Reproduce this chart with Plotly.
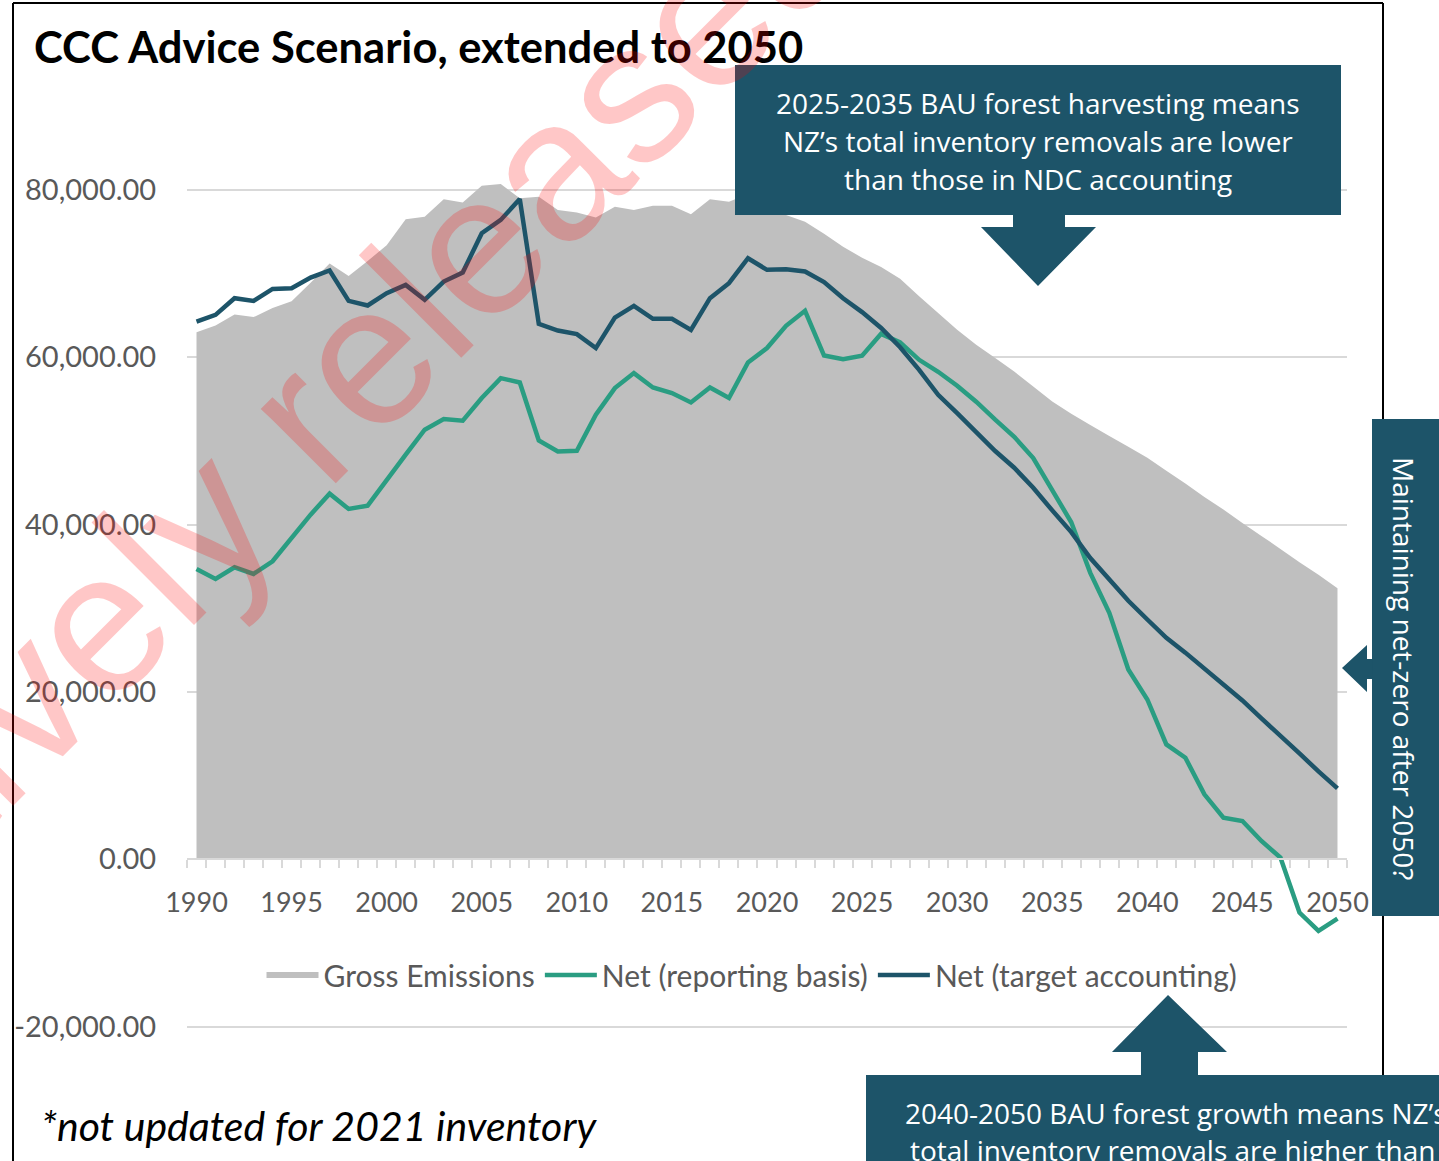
import plotly.graph_objects as go

# ---------------- data ----------------
years = list(range(1990, 2051))

gross_emissions = [
    63000, 63800, 65100, 64800, 65900, 66700, 68900, 71200, 69700, 71500,
    73400, 76500, 76800, 78900, 78500, 80500, 80700, 79000, 79200, 77600,
    77300, 76700, 78000, 77600, 78100, 78100, 77100, 78900, 78600, 79500,
    78200, 77000, 76200, 74750, 73200, 71900, 70800, 69400, 67300, 65300,
    63300, 61500, 59900, 58300, 56500, 54700, 53250, 51900, 50600, 49300,
    48000, 46450, 44900, 43300, 41800, 40200, 38650, 37100, 35500, 34000,
    32400,
]

net_reporting = [
    34700, 33510, 34900, 34110, 35620, 38370, 41190, 43700, 41870, 42270,
    45370, 48360, 51340, 52620, 52420, 55130, 57510, 56990, 50070, 48750,
    48830, 53130, 56320, 58110, 56390, 55720, 54600, 56390, 55130, 59380,
    61100, 63760, 65550, 60210, 59780, 60180, 62800, 61770, 59700, 58270,
    56600, 54690, 52540, 50500, 47960, 44000, 40280, 34230, 29450, 22690,
    19100, 13730, 12140, 7760, 4980, 4580, 2190, 200, -6370, -8560,
    -7080,
]

net_target = [
    64270, 65070, 67060, 66740, 68170, 68250, 69530, 70370, 66740, 66190,
    67660, 68650, 66860, 69050, 70130, 74830, 76420, 78920, 64000, 63200,
    62770, 61100, 64750, 66150, 64600, 64600, 63280, 67060, 68860, 71840,
    70450, 70530, 70250, 68980, 67060, 65400, 63500, 61200, 58500, 55520,
    53330, 51140, 48800, 46800, 44400, 41700, 39100, 36000, 33400, 30900,
    28660, 26470, 24700, 22800, 20900, 18990, 16840, 14800, 12660, 10500,
    8470,
]

series_names = ["Gross Emissions", "Net (reporting basis)", "Net (target accounting)"]
y_tick_values = [-20000, 0, 20000, 40000, 60000, 80000]
x_label_years = list(range(1990, 2051, 5))

title_text = "CCC Advice Scenario, extended to 2050"
box_top_lines = ["2025-2035 BAU forest harvesting means",
                 "NZ\u2019s total inventory removals are lower",
                 "than those in NDC accounting"]
box_side_text = "Maintaining net-zero after 2050?"
box_bottom_lines = ["2040-2050 BAU forest growth means NZ\u2019s",
                    "total inventory removals are higher than"]
footnote = "*not updated for 2021 inventory"
watermark = "Proactively released"

# ---------------- styles ----------------
W, H = 1439, 1161
ML, MR, MT, MB = 187, 92, 123, 126
PW, PH = W - ML - MR, H - MT - MB
Y_MIN, Y_MAX = -21000, 88000

DARK = "#1d5469"
TEAL = "#2a9d82"
GREY_FILL = "#bfbfbf"
TXT_GREY = "#595959"
GRID = "#d9d9d9"
FONT = "Lato"
BOX_FONT = "Open Sans"


def px(x):
    return (x - ML) / PW


def py(y):
    return (H - MB - y) / PH


def path(points):
    return "M " + " L ".join(f"{px(x):.5f},{py(y):.5f}" for x, y in points) + " Z"


fig = go.Figure()
fig.add_trace(go.Scatter(x=years, y=gross_emissions, name=series_names[0],
                         mode="none", fill="tozeroy", fillcolor=GREY_FILL))
fig.add_trace(go.Scatter(x=years, y=net_reporting, name=series_names[1],
                         mode="lines", line=dict(color=TEAL, width=4.5)))
fig.add_trace(go.Scatter(x=years, y=net_target, name=series_names[2],
                         mode="lines", line=dict(color=DARK, width=4.5)))

zero_pos = (0 - Y_MIN) / (Y_MAX - Y_MIN)

fig.update_layout(
    width=W, height=H,
    margin=dict(l=ML, r=MR, t=MT, b=MB, pad=0),
    paper_bgcolor="white", plot_bgcolor="white",
    font=dict(family=FONT, size=27, color=TXT_GREY),
    showlegend=True,
    legend=dict(orientation="h", x=px(752), xanchor="center", y=py(975), yanchor="middle",
                font=dict(family=FONT, size=30, color=TXT_GREY), bgcolor="rgba(0,0,0,0)",
                itemwidth=52, traceorder="normal"),
    xaxis=dict(range=[1989.5, 2050.5], tickmode="array", tickvals=x_label_years,
               ticktext=[str(v) for v in x_label_years],
               ticks="outside", ticklen=19, tickcolor="rgba(0,0,0,0)",
               showline=True, linecolor=GRID, linewidth=2,
               anchor="free", position=zero_pos, showgrid=False, zeroline=False,
               tickfont=dict(family=FONT, size=27, color=TXT_GREY),
               minor=dict(tickmode="array", tickvals=[1989.5 + i for i in range(62)],
                          ticks="outside", ticklen=8, tickcolor=GRID, tickwidth=2,
                          showgrid=False)),
    yaxis=dict(range=[Y_MIN, Y_MAX], tickmode="array", tickvals=y_tick_values,
               ticktext=[f"{v:,.2f}" for v in y_tick_values],
               showgrid=True, gridcolor=GRID, gridwidth=1.5, zeroline=False,
               showline=False, ticks="outside", ticklen=24, tickcolor="rgba(0,0,0,0)",
               tickfont=dict(family=FONT, size=29, color=TXT_GREY)),
)

shapes = []
# frame
for (x0, y0, x1, y1) in [(13, 3, 1383, 3), (13, 3, 13, 1170), (1383, 3, 1383, 1170)]:
    shapes.append(dict(type="line", xref="paper", yref="paper",
                       x0=px(x0), y0=py(y0), x1=px(x1), y1=py(y1),
                       line=dict(color="black", width=2), layer="above"))
# boxes
for (x0, y0, x1, y1) in [(735, 65, 1341, 215), (1372, 419, 1445, 916), (866, 1075, 1450, 1175)]:
    shapes.append(dict(type="rect", xref="paper", yref="paper",
                       x0=px(x0), y0=py(y0), x1=px(x1), y1=py(y1),
                       fillcolor=DARK, line=dict(width=0), layer="above"))
# arrows
arrows = [
    [(1013, 215), (1065, 215), (1065, 227), (1096, 227), (1038, 286), (981, 227), (1013, 227)],
    [(1342, 668), (1367, 645), (1367, 659), (1373, 659), (1373, 679), (1367, 679), (1367, 692)],
    [(1168, 995), (1227, 1052), (1198, 1052), (1198, 1076), (1141, 1076), (1141, 1052), (1112, 1052)],
]
for pts in arrows:
    shapes.append(dict(type="path", xref="paper", yref="paper", path=path(pts),
                       fillcolor=DARK, line=dict(width=0), layer="above"))
fig.update_layout(shapes=shapes)

ann = []
ann.append(dict(text=f"<b>{title_text}</b>", x=px(32), y=py(46), xref="paper", yref="paper",
                xanchor="left", yanchor="middle", showarrow=False,
                font=dict(family=FONT, size=43.5, color="black")))
for i, line in enumerate(box_top_lines):
    ann.append(dict(text=line, x=px(1038), y=py(103 + 38 * i), xref="paper", yref="paper",
                    xanchor="center", yanchor="middle", showarrow=False,
                    font=dict(family=BOX_FONT, size=28, color="white")))
ann.append(dict(text=box_side_text, x=px(1404), y=py(668), xref="paper", yref="paper",
                xanchor="center", yanchor="middle", showarrow=False, textangle=90,
                font=dict(family=BOX_FONT, size=28, color="white")))
for i, (line, x0) in enumerate(zip(box_bottom_lines, [903, 908])):
    ann.append(dict(text=line, x=px(x0), y=py(1113 + 37 * i), xref="paper", yref="paper",
                    xanchor="left", yanchor="middle", showarrow=False,
                    font=dict(family=BOX_FONT, size=28, color="white")))
ann.append(dict(text=f"<i>{footnote}</i>", x=px(39), y=py(1125), xref="paper", yref="paper",
                xanchor="left", yanchor="middle", showarrow=False,
                font=dict(family=FONT, size=41, color="black")))
ann.append(dict(text=watermark, x=px(182), y=py(538), xref="paper", yref="paper",
                xanchor="center", yanchor="middle", showarrow=False, textangle=-45,
                font=dict(family="Liberation Sans", size=200, color="rgba(255,0,0,0.22)")))
fig.update_layout(annotations=ann)

fig.write_html("out.html", config={"displayModeBar": False},
               post_script="document.body.style.margin='0';document.body.style.overflow='hidden';")
